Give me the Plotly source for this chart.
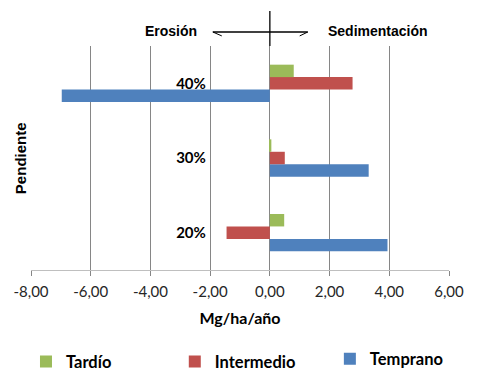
import plotly.graph_objects as go

categories = ["20%", "30%", "40%"]
tardio = [0.48, 0.05, 0.80]
intermedio = [-1.45, 0.50, 2.77]
temprano = [3.94, 3.31, -6.97]
x_ticks = [-8, -6, -4, -2, 0, 2, 4, 6]
x_ticktext = [f"{v:.2f}".replace(".", ",") for v in x_ticks]

GREEN = "#9BBB59"
RED = "#C0504D"
BLUE = "#4F81BD"
CAL = "Lato"
ARIAL = "Liberation Sans"

fig = go.Figure()
fig.add_trace(go.Bar(y=categories, x=temprano, orientation="h", name="Temprano",
                     marker=dict(color=BLUE, line_width=0), legend="legend3"))
fig.add_trace(go.Bar(y=categories, x=intermedio, orientation="h", name="Intermedio",
                     marker=dict(color=RED, line_width=0), legend="legend2"))
fig.add_trace(go.Bar(y=categories, x=tardio, orientation="h", name="Tardío",
                     marker=dict(color=GREEN, line_width=0), legend="legend"))

leg_font = dict(family=CAL, size=16.5, color="#000000", weight="bold")

# page body has an 8px default margin: figure is drawn 8px smaller and shifted
fig.update_layout(
    width=469, height=372,
    margin=dict(l=23, r=28, t=38, b=110, autoexpand=False),
    paper_bgcolor="white", plot_bgcolor="white",
    barmode="group", bargap=0.5, bargroupgap=0,
    showlegend=True,
    legend=dict(orientation="h", x=-0.012, xanchor="left", y=-0.41, yanchor="middle",
                font=leg_font, itemwidth=30),
    legend2=dict(orientation="h", x=0.344, xanchor="left", y=-0.41, yanchor="middle",
                 font=leg_font, itemwidth=30),
    legend3=dict(orientation="h", x=0.715, xanchor="left", y=-0.397, yanchor="middle",
                 font=leg_font, itemwidth=30),
    xaxis=dict(range=[-8, 6], tickvals=x_ticks, ticktext=x_ticktext, automargin=False,
               showgrid=True, gridcolor="#868686", gridwidth=1,
               zeroline=True, zerolinecolor="#868686", zerolinewidth=1,
               showline=True, linecolor="#BFBFBF", linewidth=1,
               ticks="outside", ticklen=5, tickcolor="#868686", ticklabelstandoff=3,
               tickfont=dict(family=CAL, size=15, color="#262626"),
               title=dict(text="Mg/ha/año", font=dict(family=CAL, size=16, color="#000000", weight="bold"),
                          standoff=13),
               fixedrange=True),
    yaxis=dict(categoryorder="array", categoryarray=categories, range=[-0.5, 2.5],
               anchor="free", position=8 / 14, showgrid=False, zeroline=False, automargin=False,
               showline=False, ticks="", ticklabelstandoff=64,
               tickfont=dict(family=CAL, size=15, color="#000000", weight="bold"),
               fixedrange=True),
)

# axis title "Pendiente"
fig.add_annotation(text="<b>Pendiente</b>", xref="paper", yref="paper",
                   x=-0.026, y=0.5, xanchor="center", yanchor="middle", textangle=-90,
                   showarrow=False, font=dict(family=ARIAL, size=15, color="#000000"))
# Erosión / Sedimentación labels
fig.add_annotation(text="<b>Erosión</b>", xref="x", yref="paper", x=-3.32, y=1.067,
                   xanchor="center", yanchor="middle",
                   showarrow=False, font=dict(family=ARIAL, size=14, color="#000000"))
fig.add_annotation(text="<b>Sedimentación</b>", xref="x", yref="paper", x=3.62, y=1.067,
                   xanchor="center", yanchor="middle",
                   showarrow=False, font=dict(family=ARIAL, size=14, color="#000000"))
# arrow lines
line = dict(color="#000000", width=1.3)
fig.add_shape(type="line", xref="x", yref="paper", x0=0, x1=0, y0=1.0, y1=1.156, line=line)
fig.add_shape(type="line", xref="x", yref="paper", x0=-1.91, x1=1.27, y0=1.0625, y1=1.0625, line=line)
fig.add_shape(type="line", xref="x", yref="paper", x0=-1.91, x1=-1.61, y0=1.0625, y1=1.045,
              line=dict(color="#000000", width=1))
fig.add_shape(type="line", xref="x", yref="paper", x0=1.27, x1=1.00, y0=1.0625, y1=1.045,
              line=dict(color="#000000", width=1))

fig.write_html("out.html")
